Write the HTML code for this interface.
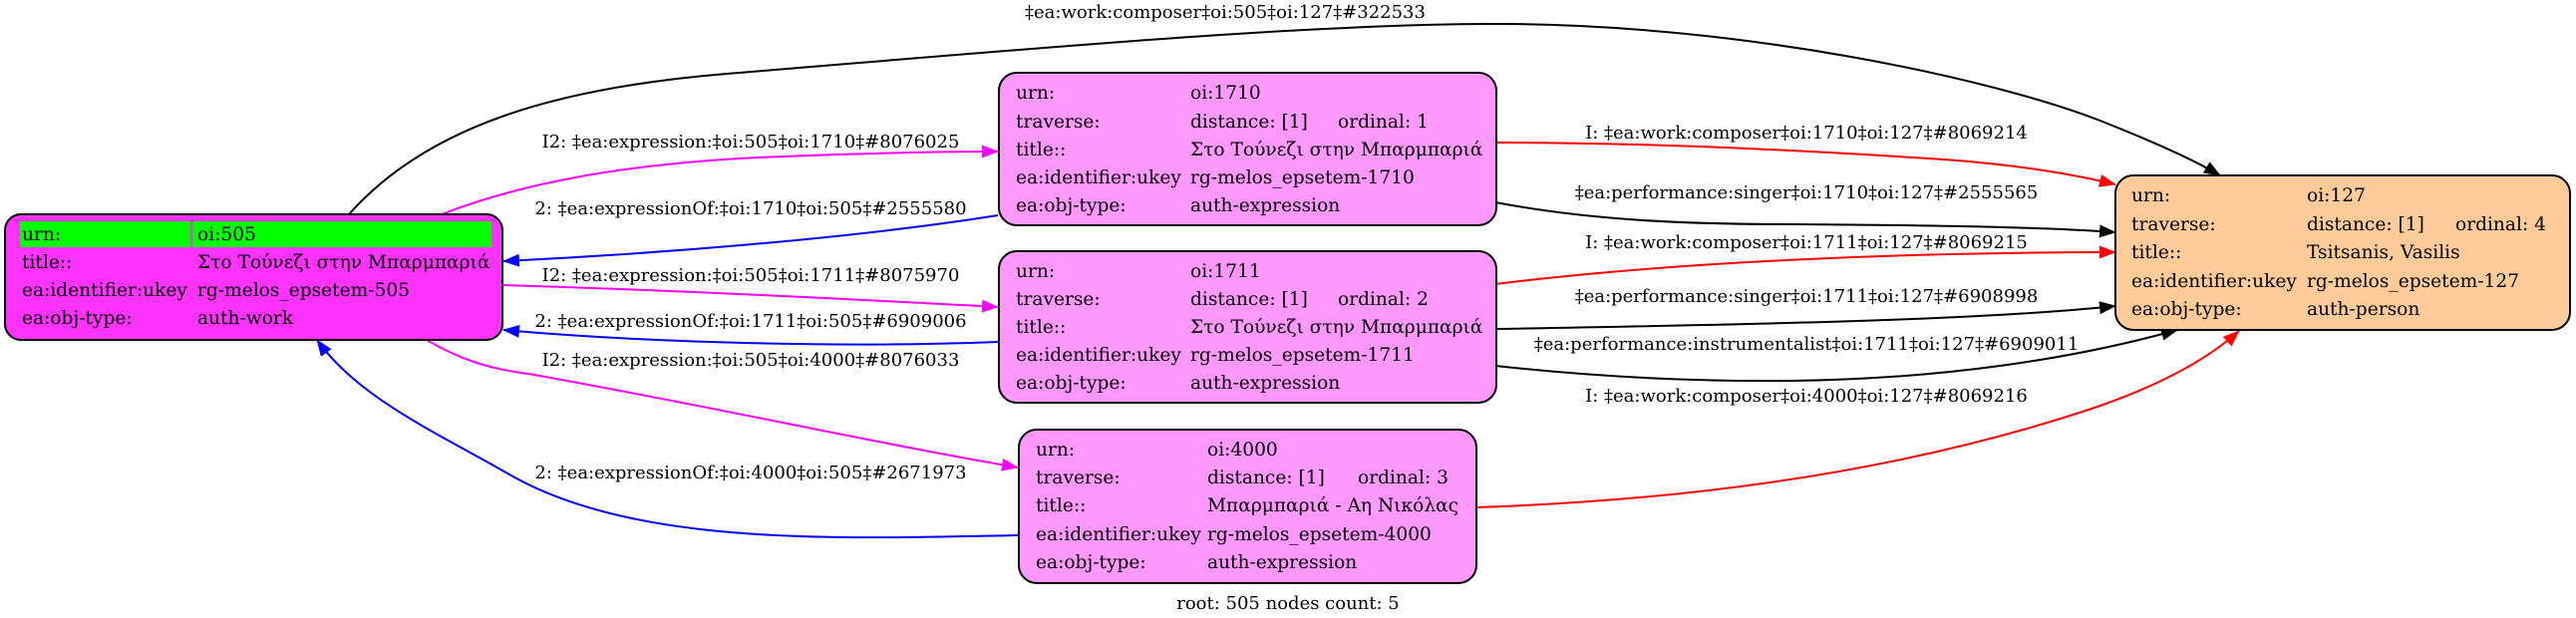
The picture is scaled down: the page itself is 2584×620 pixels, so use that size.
<!DOCTYPE html>
<html><head><meta charset="utf-8"><style>
html,body{margin:0;padding:0;background:#fff;}
svg{display:block;}
text{font-family:"DejaVu Serif","Liberation Serif",serif;font-size:18.6px;fill:#000;}
.e text{font-size:18px;}
</style></head><body>
<svg width="2584" height="620" viewBox="0 0 2584 620" xmlns="http://www.w3.org/2000/svg">
<defs>
<marker id="ak" markerWidth="17" markerHeight="13" refX="16" refY="6.5" orient="auto" markerUnits="userSpaceOnUse"><path d="M0,0 L17,6.5 L0,13 z" fill="#000"/></marker>
<marker id="ar" markerWidth="17" markerHeight="13" refX="16" refY="6.5" orient="auto" markerUnits="userSpaceOnUse"><path d="M0,0 L17,6.5 L0,13 z" fill="#f00"/></marker>
<marker id="am" markerWidth="17" markerHeight="13" refX="16" refY="6.5" orient="auto" markerUnits="userSpaceOnUse"><path d="M0,0 L17,6.5 L0,13 z" fill="#f0f"/></marker>
<marker id="ab" markerWidth="17" markerHeight="13" refX="16" refY="6.5" orient="auto" markerUnits="userSpaceOnUse"><path d="M0,0 L17,6.5 L0,13 z" fill="#00f"/></marker>
</defs>
<g fill="none" stroke-width="2">
<path d="M350,215 C430,125 560,88 729,74 C1000,52 1300,24 1500,24 C1750,24 2000,80 2104,120 C2160,142 2200,160 2227,176" stroke="#000" marker-end="url(#ak)"/>
<path d="M443,215 C520,185 620,165 760,158 C860,154 940,152 1001,152" stroke="#f0f" marker-end="url(#am)"/>
<path d="M1001,216 C850,240 650,255 505,262" stroke="#00f" marker-end="url(#ab)"/>
<path d="M505,286 C700,292 850,300 1001,308" stroke="#f0f" marker-end="url(#am)"/>
<path d="M1001,343 C850,349 650,344 505,331" stroke="#00f" marker-end="url(#ab)"/>
<path d="M428,341 C460,360 490,370 530,375 C700,405 880,445 1021,469" stroke="#f0f" marker-end="url(#am)"/>
<path d="M1021,537 C850,540 640,550 511,476 C440,435 360,400 318,341" stroke="#00f" marker-end="url(#ab)"/>
<path d="M1500,143 C1650,143 1800,150 1950,160 C2030,166 2080,175 2122,185" stroke="#f00" marker-end="url(#ar)"/>
<path d="M1500,203 C1600,222 1700,225 1800,225 C1950,226 2050,228 2122,233" stroke="#000" marker-end="url(#ak)"/>
<path d="M1500,285 C1700,260 1950,253 2122,253" stroke="#f00" marker-end="url(#ar)"/>
<path d="M1500,330 C1800,325 2000,320 2122,307" stroke="#000" marker-end="url(#ak)"/>
<path d="M1500,367 C1600,378 1700,383 1798,382 C1950,380 2080,360 2184,331" stroke="#000" marker-end="url(#ak)"/>
<path d="M1481,509 C1750,500 1950,460 2104,408 C2170,385 2215,360 2246,332" stroke="#f00" marker-end="url(#ar)"/>
</g>
<g text-anchor="middle" class="e">
<text x="1229" y="18">‡ea:work:composer‡oi:505‡oi:127‡#322533</text>
<text x="753" y="148">I2: ‡ea:expression:‡oi:505‡oi:1710‡#8076025</text>
<text x="753" y="215">2: ‡ea:expressionOf:‡oi:1710‡oi:505‡#2555580</text>
<text x="753" y="282">I2: ‡ea:expression:‡oi:505‡oi:1711‡#8075970</text>
<text x="753" y="328">2: ‡ea:expressionOf:‡oi:1711‡oi:505‡#6909006</text>
<text x="753" y="367">I2: ‡ea:expression:‡oi:505‡oi:4000‡#8076033</text>
<text x="753" y="480">2: ‡ea:expressionOf:‡oi:4000‡oi:505‡#2671973</text>
<text x="1812" y="139">I: ‡ea:work:composer‡oi:1710‡oi:127‡#8069214</text>
<text x="1812" y="199">‡ea:performance:singer‡oi:1710‡oi:127‡#2555565</text>
<text x="1812" y="249">I: ‡ea:work:composer‡oi:1711‡oi:127‡#8069215</text>
<text x="1812" y="303">‡ea:performance:singer‡oi:1711‡oi:127‡#6908998</text>
<text x="1812" y="351">‡ea:performance:instrumentalist‡oi:1711‡oi:127‡#6909011</text>
<text x="1812" y="403">I: ‡ea:work:composer‡oi:4000‡oi:127‡#8069216</text>
<text x="1292" y="611">root: 505 nodes count: 5</text>
</g>
<!-- node 505 -->
<rect x="5" y="215" width="499" height="126" rx="16" fill="#ff33ff" stroke="#000" stroke-width="2"/>
<rect x="20" y="222" width="171" height="26" fill="#00ff00"/>
<rect x="193" y="222" width="300" height="26" fill="#00ff00"/>
<text x="22" y="241">urn:</text><text x="198" y="241">oi:505</text>
<text x="22" y="269">title::</text><text x="198" y="269">Στο Τούνεζι στην Μπαρμπαριά</text>
<text x="22" y="297">ea:identifier:ukey</text><text x="198" y="297">rg-melos_epsetem-505</text>
<text x="22" y="325">ea:obj-type:</text><text x="198" y="325">auth-work</text>
<!-- node 1710 -->
<rect x="1002" y="73" width="499" height="153" rx="18" fill="#ff99ff" stroke="#000" stroke-width="2"/>
<text x="1019" y="99">urn:</text><text x="1194" y="99">oi:1710</text>
<text x="1019" y="128">traverse:</text><text x="1194" y="128">distance: [1]</text><text x="1342" y="128">ordinal: 1</text>
<text x="1019" y="156">title::</text><text x="1194" y="156">Στο Τούνεζι στην Μπαρμπαριά</text>
<text x="1019" y="184">ea:identifier:ukey</text><text x="1194" y="184">rg-melos_epsetem-1710</text>
<text x="1019" y="212">ea:obj-type:</text><text x="1194" y="212">auth-expression</text>
<!-- node 1711 -->
<rect x="1002" y="252" width="499" height="152" rx="18" fill="#ff99ff" stroke="#000" stroke-width="2"/>
<text x="1019" y="278">urn:</text><text x="1194" y="278">oi:1711</text>
<text x="1019" y="306">traverse:</text><text x="1194" y="306">distance: [1]</text><text x="1342" y="306">ordinal: 2</text>
<text x="1019" y="334">title::</text><text x="1194" y="334">Στο Τούνεζι στην Μπαρμπαριά</text>
<text x="1019" y="362">ea:identifier:ukey</text><text x="1194" y="362">rg-melos_epsetem-1711</text>
<text x="1019" y="390">ea:obj-type:</text><text x="1194" y="390">auth-expression</text>
<!-- node 4000 -->
<rect x="1022" y="431" width="459" height="154" rx="18" fill="#ff99ff" stroke="#000" stroke-width="2"/>
<text x="1039" y="457">urn:</text><text x="1211" y="457">oi:4000</text>
<text x="1039" y="485">traverse:</text><text x="1211" y="485">distance: [1]</text><text x="1362" y="485">ordinal: 3</text>
<text x="1039" y="513">title::</text><text x="1211" y="513">Μπαρμπαριά - Αη Νικόλας</text>
<text x="1039" y="542">ea:identifier:ukey</text><text x="1211" y="542">rg-melos_epsetem-4000</text>
<text x="1039" y="570">ea:obj-type:</text><text x="1211" y="570">auth-expression</text>
<!-- node 127 -->
<rect x="2122" y="176" width="456" height="155" rx="18" fill="#ffcc99" stroke="#000" stroke-width="2"/>
<text x="2138" y="202">urn:</text><text x="2314" y="202">oi:127</text>
<text x="2138" y="231">traverse:</text><text x="2314" y="231">distance: [1]</text><text x="2463" y="231">ordinal: 4</text>
<text x="2138" y="259">title::</text><text x="2314" y="259">Tsitsanis, Vasilis</text>
<text x="2138" y="288">ea:identifier:ukey</text><text x="2314" y="288">rg-melos_epsetem-127</text>
<text x="2138" y="316">ea:obj-type:</text><text x="2314" y="316">auth-person</text>
</svg>
</body></html>
